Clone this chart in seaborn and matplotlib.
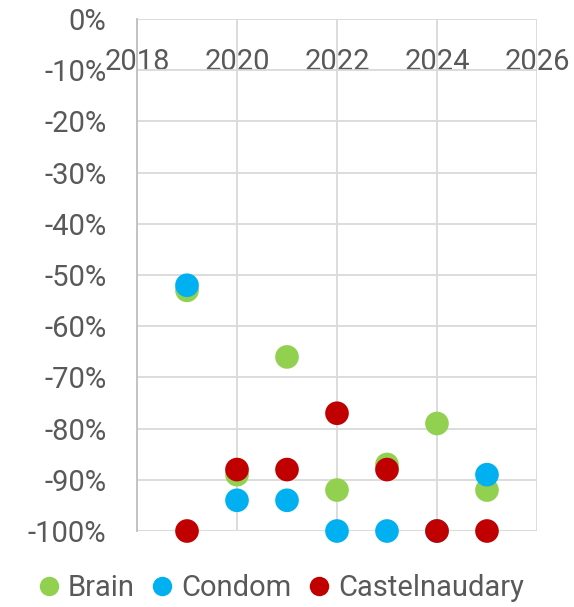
import numpy as np
import pandas as pd
import matplotlib
matplotlib.use("Agg")
import matplotlib.pyplot as plt
import seaborn as sns
from matplotlib.lines import Line2D
from matplotlib.ticker import FuncFormatter, MultipleLocator

# Data (percent change)
years = [2019, 2020, 2021, 2022, 2023, 2024, 2025]
brain = [-53, -89, -66, -92, -87, -79, -92]
condom = [-52, -94, -94, -100, -100, -100, -89]
castelnaudary = [-100, -88, -88, -77, -88, -100, -100]

series_names = ["Brain", "Condom", "Castelnaudary"]
colors = ["#92D050", "#00B0F0", "#C00000"]

df = pd.DataFrame({
    "year": years * 3,
    "value": brain + condom + castelnaudary,
    "site": [n for n in series_names for _ in years],
})

sns.set_theme(style="white")
plt.rcParams['font.family'] = ['Roboto', 'DejaVu Sans']
text_grey = "#595959"
grid_grey = "#D9D9D9"

fig, ax = plt.subplots(figsize=(5.74, 6.07), dpi=100)
fig.subplots_adjust(left=0.2387, right=0.9355, top=0.9687, bottom=0.1252)

sns.scatterplot(data=df, x="year", y="value", hue="site", hue_order=series_names,
                palette=colors, s=290, edgecolor="none", linewidth=0, alpha=1,
                ax=ax, legend=False, zorder=3)
for coll in ax.collections:
    coll.set_clip_on(False)

ax.set_xlim(2018, 2026)
ax.set_ylim(-100, 0)
ax.xaxis.set_major_locator(MultipleLocator(2))
ax.yaxis.set_major_locator(MultipleLocator(10))
ax.yaxis.set_major_formatter(FuncFormatter(lambda v, p: f"{v:.0f}%"))
ax.grid(True, color=grid_grey, linewidth=1.3, zorder=0)
ax.set_axisbelow(True)

for s in ["top", "right", "bottom"]:
    ax.spines[s].set_visible(False)
ax.spines["left"].set_color("#BFBFBF")
ax.spines["left"].set_linewidth(1.3)

ax.tick_params(axis="y", length=0, pad=22, labelsize=21, labelcolor=text_grey)
# x labels sit just under the 0% line, like Excel's "next to axis"
ax.xaxis.set_ticks_position("top")
ax.tick_params(axis="x", length=0, pad=-21, labelsize=21, labelcolor=text_grey)
for lbl in ax.get_xticklabels():
    lbl.set_verticalalignment("top")
ax.set_xlabel("")
ax.set_ylabel("")

handles = [Line2D([], [], linestyle="none", marker="o", markersize=14,
                  markerfacecolor=c, markeredgecolor="none") for c in colors]
leg = fig.legend(handles, series_names, loc="lower center", bbox_to_anchor=(0.49, -0.035),
                 ncol=3, frameon=False, fontsize=21, handlelength=0.7,
                 handletextpad=0.3, columnspacing=0.6)
for t in leg.get_texts():
    t.set_color(text_grey)

fig.savefig("out.png", dpi=100)
